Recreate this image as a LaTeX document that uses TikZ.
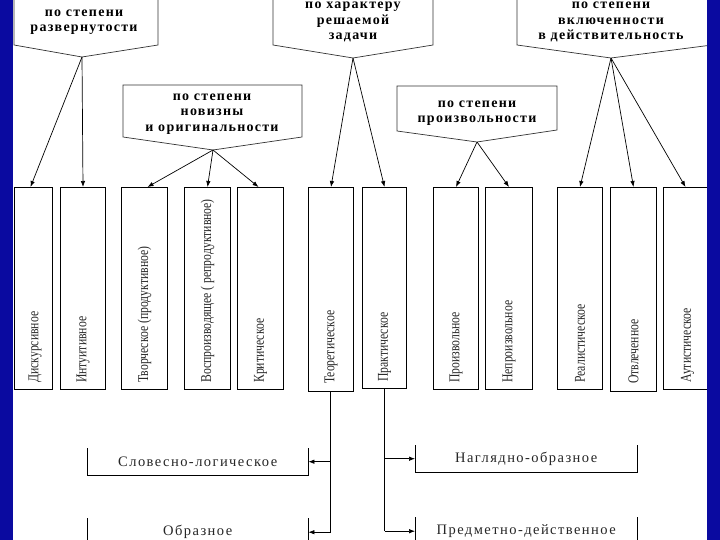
\documentclass[tikz,border=0pt]{standalone}
\usepackage{fontspec}
\usepackage{graphicx}
\setmainfont{Liberation Serif}
\usetikzlibrary{arrows.meta}
\definecolor{slideblue}{RGB}{10,10,160}
\newcommand{\vtx}[1]{\scalebox{0.78}[1]{#1}}
\begin{document}
\begin{tikzpicture}[x=1pt,y=-1pt,
  callout/.style={draw=black!80, line width=0.7pt},
  ctext/.style={font=\fontsize{14}{15.5}\selectfont\bfseries\addfontfeature{LetterSpace=9}, align=center, inner sep=0pt},
  vbox/.style={draw, line width=1pt, anchor=north west, inner sep=0pt},
  vtext/.style={rotate=90, anchor=west, inner sep=0pt, font=\fontsize{15}{15}\selectfont, text=black!85},
  ubox/.style={anchor=north west, inner sep=0pt, font=\fontsize{14.5}{15}\selectfont\addfontfeature{LetterSpace=10}, text=black!85},
  uline/.style={draw, line width=1pt},
  arr/.style={line width=0.7pt, -{Latex[length=6pt,width=4.5pt]}},
  trunk/.style={line width=1.6pt}
]
\useasboundingbox (0,0) rectangle (720,540);
\clip (0,0) rectangle (720,540);
\fill[white] (0,0) rectangle (720,540);

% callouts
\draw[callout] (14,-5) -- (14,45) -- (82,57) -- (158,45) -- (158,-5);
\coordinate (t1) at (82,57);
\node[ctext] (c1) at (84,22) {по степени\\развернутости};

\draw[callout] (123,137) -- (123,85) -- (302,85) -- (302,137) -- (213,150) -- cycle;
\coordinate (t2) at (213,150);
\node[ctext] (c2) at (212,114) {по степени\\новизны\\и оригинальности};

\draw[callout] (273,-5) -- (273,45) -- (353,58) -- (433,45) -- (433,-5);
\coordinate (t3) at (353,58);
\node[ctext] (c3) at (353,22) {по характеру\\решаемой\\задачи};

\draw[callout] (397,131) -- (397,86) -- (557,86) -- (557,130) -- (477,142) -- cycle;
\coordinate (t4) at (477,142);
\node[ctext] (c4) at (477,113) {по степени\\произвольности};

\draw[callout] (517,-5) -- (517,45) -- (611,58) -- (712,45) -- (712,-5);
\coordinate (t5) at (611,58);
\node[ctext] (c5) at (611,22) {по степени\\включенности\\в действительность};

% vertical boxes
\node[vbox, minimum width=38, minimum height=202] (b1) at (14,187) {};
\node[vbox, minimum width=45, minimum height=202] (b2) at (60,187) {};
\node[vbox, minimum width=46, minimum height=202] (b3) at (121,187) {};
\node[vbox, minimum width=46, minimum height=202] (b4) at (184,187) {};
\node[vbox, minimum width=46, minimum height=202] (b5) at (237,187) {};
\node[vbox, minimum width=45, minimum height=204] (b6) at (308,187) {};
\node[vbox, minimum width=44, minimum height=201] (b7) at (362,187) {};
\node[vbox, minimum width=45, minimum height=202] (b8) at (433,187) {};
\node[vbox, minimum width=47, minimum height=202] (b9) at (485,187) {};
\node[vbox, minimum width=45, minimum height=202] (b10) at (557,187) {};
\node[vbox, minimum width=46, minimum height=204] (b11) at (610,187) {};
\node[vbox, minimum width=44, minimum height=202] (b12) at (663,187) {};

\node[vtext] (l1) at ([xshift=1.5pt,yshift=7pt]b1.south) {\vtx{Дискурсивное}};
\node[vtext] (l2) at ([yshift=7pt]b2.south) {\vtx{Интуитивное}};
\node[vtext] (l3) at ([yshift=7pt]b3.south) {\vtx{Творческое (продуктивное)}};
\node[vtext] (l4) at ([yshift=7pt]b4.south) {\vtx{Воспроизводящее ( репродуктивное)}};
\node[vtext] (l5) at ([yshift=7pt]b5.south) {\vtx{Критическое}};
\node[vtext] (l6) at ([yshift=8pt]b6.south) {\vtx{Теоретическое}};
\node[vtext] (l7) at ([yshift=7pt]b7.south) {\vtx{Практическое}};
\node[vtext] (l8) at ([yshift=7pt]b8.south) {\vtx{Произвольное}};
\node[vtext] (l9) at ([yshift=7pt]b9.south) {\vtx{Непроизвольное}};
\node[vtext] (l10) at ([yshift=7pt]b10.south) {\vtx{Реалистическое}};
\node[vtext] (l11) at ([yshift=8pt]b11.south) {\vtx{Отвлеченное}};
\node[vtext] (l12) at ([xshift=2pt,yshift=7pt]b12.south) {\vtx{Аутистическое}};

% arrows from callouts
\draw[arr] (t1) -- ([xshift=-3pt]b1.north);
\draw[arr] (t1) -- (b2.north);
\draw[arr] (t2) -- ([xshift=3pt]b3.north);
\draw[arr] (t2) -- (b4.north);
\draw[arr] (t2) -- ([xshift=-2pt]b5.north);
\draw[arr] (t3) -- (b6.north);
\draw[arr] (t3) -- (b7.north);
\draw[arr] (t4) -- (b8.north);
\draw[arr] (t4) -- (b9.north);
\draw[arr] (t5) -- (b10.north);
\draw[arr] (t5) -- (b11.north);
\draw[arr] (t5) -- (b12.north);

% bottom open boxes
\node[ubox, minimum width=221, minimum height=27] (sl) at (87,448) {Словесно-логическое};
\node[ubox, minimum width=221, minimum height=28] (ob) at (87,518) {Образное};
\node[ubox, minimum width=222, minimum height=27] (no) at (415,445) {Наглядно-образное};
\node[ubox, minimum width=222, minimum height=28] (pd) at (415,517) {Предметно-действенное};
\foreach \n in {sl,no} {
  \draw[uline] (\n.north west) -- (\n.south west) -- (\n.south east) -- (\n.north east);
}
\foreach \n in {ob,pd} {
  \draw[uline] (\n.north west) -- ([yshift=-20pt]\n.south west);
  \draw[uline] (\n.north east) -- ([yshift=-20pt]\n.south east);
}

% trunks and branches
\draw[trunk] ([xshift=-0.5pt]b6.south) -- ([xshift=-0.5pt]b6.south |- ob.east);
\draw[arr] ([xshift=-0.5pt]b6.south |- sl.east) -- (sl.east);
\draw[arr] ([xshift=-0.5pt]b6.south |- ob.east) -- (ob.east);
\draw[line width=1pt] (b7.south) -- (b7.south |- pd.west);
\draw[arr] (b7.south |- no.west) -- (no.west);
\draw[arr] (b7.south |- pd.west) -- (pd.west);

% slide border bars
\fill[slideblue] (0,0) rectangle (13,540);
\fill[slideblue] (707,0) rectangle (720,540);
\end{tikzpicture}
\end{document}
